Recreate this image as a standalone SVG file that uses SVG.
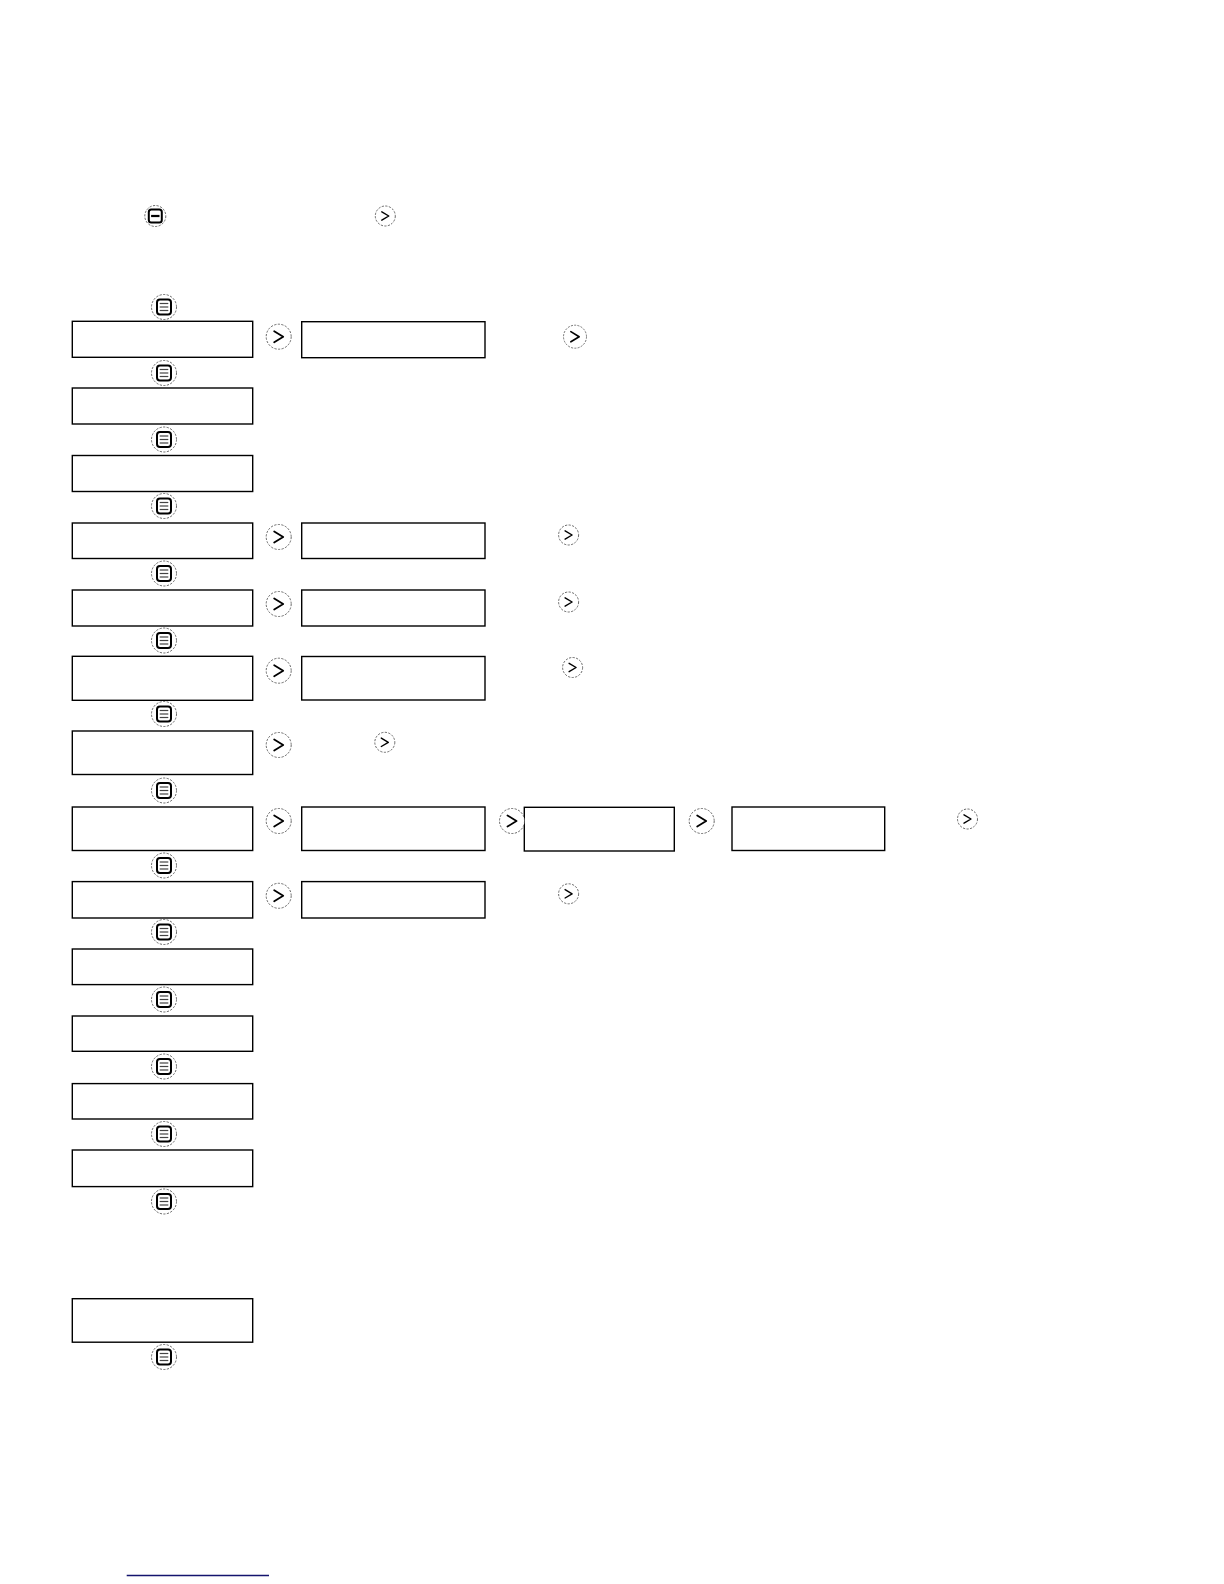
<svg xmlns="http://www.w3.org/2000/svg" xmlns:xlink="http://www.w3.org/1999/xlink" width="1224" height="1584" viewBox="0 0 1224 1584">
<style>
.box{fill:#fff;stroke:#000;stroke-width:1.4}
.ring{fill:#fff;stroke:#444;stroke-width:0.8;stroke-dasharray:2.2 1.4}
.chev{fill:none;stroke:#000;stroke-width:1.8;stroke-linecap:round;stroke-linejoin:round}
.mframe{fill:#fff;stroke:#000;stroke-width:2}
.mline{stroke:#444;stroke-width:1.2}
</style>
<defs>
<g id="menuIcon">
<circle class="ring" r="12.5"/>
<rect class="mframe" x="-7" y="-7.5" width="14" height="15" rx="3"/>
<line class="mline" x1="-4.3" y1="-3.5" x2="4.3" y2="-3.5"/>
<line class="mline" x1="-4.3" y1="0" x2="4.3" y2="0"/>
<line class="mline" x1="-4.3" y1="3.5" x2="4.3" y2="3.5"/>
</g>
<g id="menuIconTop">
<circle class="ring" r="10.5"/>
<rect class="mframe" x="-6.5" y="-6.5" width="13" height="13" rx="2.5"/>
<line x1="-4.2" y1="0" x2="4.2" y2="0" stroke="#000" stroke-width="2.2"/>
</g>
<g id="arrowIcon">
<circle class="ring" r="12.5"/>
<polyline class="chev" points="-4.5,-5.5 4.5,0 -4.5,5.5"/>
</g>
<g id="arrowIconSm">
<circle class="ring" r="10"/>
<polyline class="chev" style="stroke-width:1.4" points="-3.5,-4.2 3.5,0 -3.5,4.2"/>
</g>
</defs>
<rect width="1224" height="1584" fill="#fff"/>

<g id="intro">
<use xlink:href="#menuIconTop" x="155.3" y="216"/>
<use xlink:href="#arrowIconSm" x="385.3" y="216"/>
</g>

<g id="menu-buttons">
<use xlink:href="#menuIcon" x="164" y="307"/>
<use xlink:href="#menuIcon" x="164" y="373"/>
<use xlink:href="#menuIcon" x="164" y="439.5"/>
<use xlink:href="#menuIcon" x="164" y="506"/>
<use xlink:href="#menuIcon" x="164" y="573.5"/>
<use xlink:href="#menuIcon" x="164" y="640.5"/>
<use xlink:href="#menuIcon" x="164" y="714"/>
<use xlink:href="#menuIcon" x="164" y="790.5"/>
<use xlink:href="#menuIcon" x="164" y="865.5"/>
<use xlink:href="#menuIcon" x="164" y="932"/>
<use xlink:href="#menuIcon" x="164" y="999.5"/>
<use xlink:href="#menuIcon" x="164" y="1066.5"/>
<use xlink:href="#menuIcon" x="164" y="1134"/>
<use xlink:href="#menuIcon" x="164" y="1201.5"/>
<use xlink:href="#menuIcon" x="164" y="1357"/>
</g>

<g id="row1">
<rect class="box" x="72.3" y="321.3" width="180.4" height="36"/>
<use xlink:href="#arrowIcon" x="278.7" y="336.7"/>
<rect class="box" x="301.7" y="321.7" width="183.3" height="36"/>
<use xlink:href="#arrowIcon" x="575" y="336.7" transform="translate(575 336.7) scale(0.92) translate(-575 -336.7)"/>
</g>
<g id="row2"><rect class="box" x="72.3" y="388" width="180.4" height="36"/></g>
<g id="row3"><rect class="box" x="72.3" y="455.5" width="180.4" height="36"/></g>
<g id="row4">
<rect class="box" x="72.3" y="523" width="180.4" height="35.5"/>
<use xlink:href="#arrowIcon" x="278.7" y="537"/>
<rect class="box" x="301.7" y="523" width="183.3" height="35.5"/>
<use xlink:href="#arrowIconSm" x="568.6" y="535"/>
</g>
<g id="row5">
<rect class="box" x="72.3" y="590" width="180.4" height="36"/>
<use xlink:href="#arrowIcon" x="278.7" y="604"/>
<rect class="box" x="301.7" y="590" width="183.3" height="36"/>
<use xlink:href="#arrowIconSm" x="568.6" y="602"/>
</g>
<g id="row6">
<rect class="box" x="72.3" y="656.3" width="180.4" height="44"/>
<use xlink:href="#arrowIcon" x="278.7" y="670.7"/>
<rect class="box" x="301.7" y="656.5" width="183.3" height="43.5"/>
<use xlink:href="#arrowIconSm" x="572.6" y="667.5"/>
</g>
<g id="row7">
<rect class="box" x="72.3" y="731" width="180.4" height="43.5"/>
<use xlink:href="#arrowIcon" x="278.7" y="745"/>
<use xlink:href="#arrowIconSm" x="384.8" y="742.3"/>
</g>
<g id="row8">
<rect class="box" x="72.3" y="807" width="180.4" height="43.5"/>
<use xlink:href="#arrowIcon" x="278.7" y="821"/>
<rect class="box" x="301.7" y="807" width="183.3" height="43.5"/>
<rect class="box" x="524.3" y="807.3" width="150" height="43.7"/>
<use xlink:href="#arrowIcon" x="512" y="821"/>
<use xlink:href="#arrowIcon" x="701.7" y="821"/>
<rect class="box" x="732" y="807" width="152.7" height="43.5"/>
<use xlink:href="#arrowIconSm" x="967.5" y="819"/>
</g>
<g id="row9">
<rect class="box" x="72.3" y="881.6" width="180.4" height="36.4"/>
<use xlink:href="#arrowIcon" x="278.7" y="895.8"/>
<rect class="box" x="301.7" y="881.6" width="183.3" height="36.4"/>
<use xlink:href="#arrowIconSm" x="568.6" y="893.8"/>
</g>
<g id="row10"><rect class="box" x="72.3" y="949" width="180.4" height="35.6"/></g>
<g id="row11"><rect class="box" x="72.3" y="1016" width="180.4" height="35.3"/></g>
<g id="row12"><rect class="box" x="72.3" y="1083.6" width="180.4" height="35.4"/></g>
<g id="row13"><rect class="box" x="72.3" y="1150" width="180.4" height="36.6"/></g>
<g id="row14"><rect class="box" x="72.3" y="1298.7" width="180.4" height="43.5"/></g>

<g id="connectors"></g>

<g id="footer">
<line x1="126.7" y1="1575.5" x2="269" y2="1575.5" stroke="#14146e" stroke-width="1.4"/>
</g>
</svg>
